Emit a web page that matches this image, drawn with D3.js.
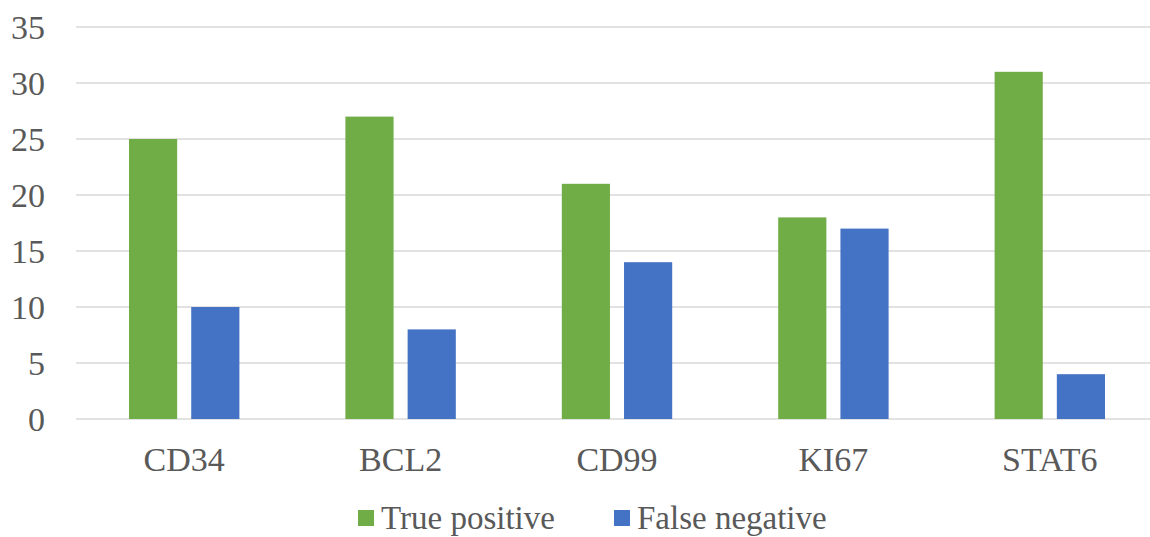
<!DOCTYPE html>
<html><head><meta charset="utf-8">
<script src="https://cdn.jsdelivr.net/npm/d3@7"></script>
<style>body{margin:0;background:#fff;overflow:hidden;font-family:"Liberation Serif",serif}svg{display:block}</style>
</head><body>
<svg id="chart" width="1150" height="537" font-family="Liberation Serif"></svg>
<script>
const categories = ["CD34", "BCL2", "CD99", "KI67", "STAT6"];
const seriesNames = ["True positive", "False negative"];
const truePositive = [25, 27, 21, 18, 31];
const falseNegative = [10, 8, 14, 17, 4];
const yTicks = [0, 5, 10, 15, 20, 25, 30, 35];
const colors = ["#70AD47", "#4472C4"];

(function(){
const svg = d3.select("#chart");
const mLeft = 76, mRight = 1158, mTop = 27, mBottom = 419;
const fs = 34;
const ff = "Liberation Serif, DejaVu Serif, serif";

const x = d3.scaleBand().domain(categories).range([mLeft, mRight]).paddingInner(0).paddingOuter(0);
const y = d3.scaleLinear().domain([0, 35]).range([mBottom, mTop]);
const x1 = d3.scaleBand().domain(seriesNames).range([53, x.bandwidth() - 53]).paddingInner(0.226);

svg.append("g").selectAll("line").data(yTicks).join("line")
  .attr("x1", mLeft).attr("x2", mRight)
  .attr("y1", d => y(d)).attr("y2", d => y(d))
  .attr("stroke", "#d9d9d9").attr("stroke-width", 1.3);

const yAxis = d3.axisLeft(y).tickValues(yTicks).tickSize(0).tickPadding(0);
const ya = svg.append("g").attr("transform", "translate(45,0)").call(yAxis);
ya.select(".domain").remove();
ya.attr("font-family", ff).attr("font-size", fs);
ya.selectAll("text").style("font-family", ff).style("font-size", fs + "px").attr("fill", "#595959").attr("dy", "0.33em");

const data = categories.map((c, i) => ({c, vals: [truePositive[i], falseNegative[i]]}));
const g = svg.append("g").selectAll("g").data(data).join("g")
  .attr("transform", d => `translate(${x(d.c)},0)`);
g.selectAll("rect").data(d => d.vals.map((v, j) => ({v, s: seriesNames[j], j}))).join("rect")
  .attr("x", d => x1(d.s)).attr("width", x1.bandwidth())
  .attr("y", d => y(d.v)).attr("height", d => y(0) - y(d.v))
  .attr("fill", d => colors[d.j]);

const xAxis = d3.axisBottom(x).tickSize(0).tickPadding(0);
const xa = svg.append("g").attr("transform", "translate(0,471)").call(xAxis);
xa.select(".domain").remove();
xa.attr("font-family", ff).attr("font-size", fs);
xa.selectAll("text").style("font-family", ff).style("font-size", fs + "px").attr("fill", "#595959").attr("dy", 0);

const legendX = [358, 614];
const lg = svg.append("g").selectAll("g").data(seriesNames).join("g")
  .attr("transform", (d, i) => `translate(${legendX[i]},0)`);
lg.append("rect").attr("x", 0).attr("y", 510).attr("width", 16).attr("height", 16)
  .attr("fill", (d, i) => colors[i]);
lg.append("text").attr("x", 23).attr("y", 529).text(d => d)
  .style("font-family", ff).style("font-size", "33px").attr("fill", "#595959");
})();
</script>
</body></html>
